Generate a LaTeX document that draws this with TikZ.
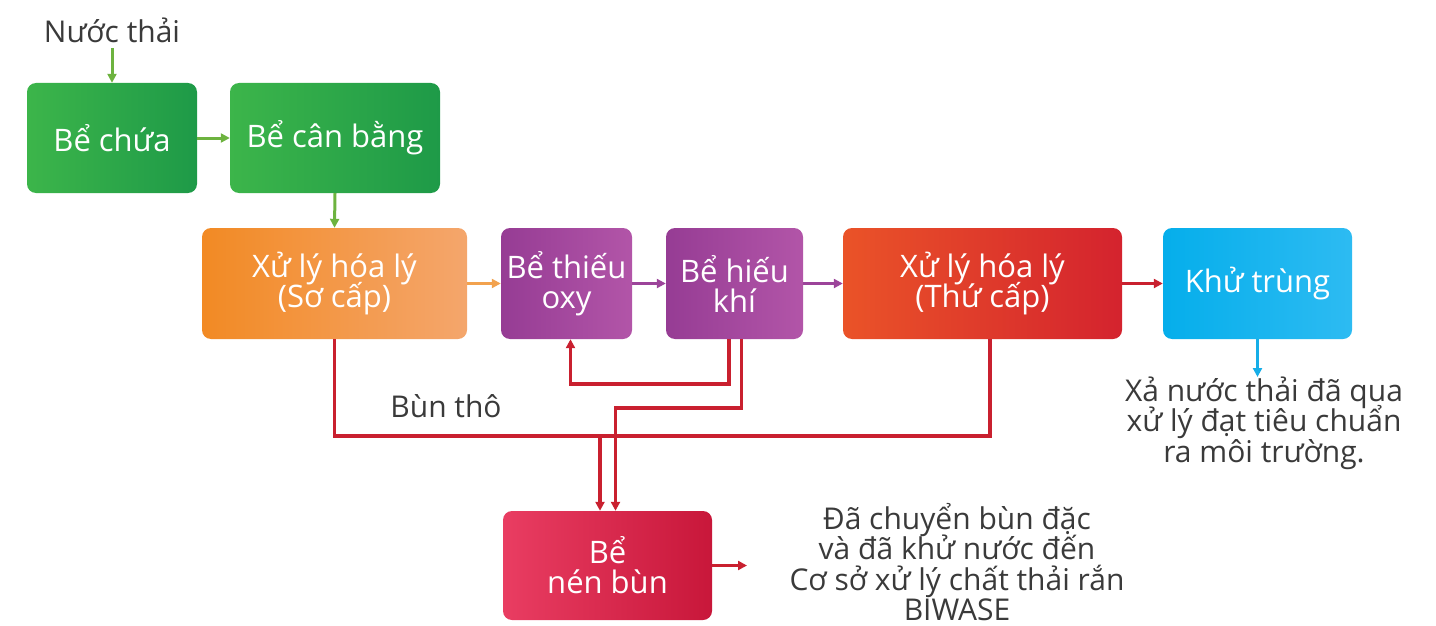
\documentclass[tikz,border=0pt]{standalone}
\usepackage{fontspec}
\setmainfont{Open Sans}
\usetikzlibrary{arrows.meta,calc}
\newcommand\mytightlines{\lineskiplimit=-60pt\relax\lineskip=0pt\relax}
\definecolor{gA}{HTML}{3CB54A}
\definecolor{gB}{HTML}{1E9A48}
\definecolor{oA}{HTML}{F28A24}
\definecolor{oB}{HTML}{F4A66C}
\definecolor{pA}{HTML}{963C94}
\definecolor{pB}{HTML}{B255A8}
\definecolor{rA}{HTML}{EA5328}
\definecolor{rB}{HTML}{D4232E}
\definecolor{cA}{HTML}{05AEEB}
\definecolor{cB}{HTML}{2DBBF2}
\definecolor{mA}{HTML}{E93D62}
\definecolor{mB}{HTML}{C8173A}
\definecolor{lineR}{HTML}{C9202F}
\definecolor{lineG}{HTML}{6DB33F}
\definecolor{lineP}{HTML}{9C449A}
\definecolor{lineO}{HTML}{F2A24E}
\definecolor{lineC}{HTML}{16AEE8}
\definecolor{txt}{HTML}{3A3A3A}
\tikzset{
  box/.style={rounded corners=9pt, draw=none, text=white, align=center, inner sep=0pt,
    font=\fontsize{31}{30}\selectfont\mytightlines, minimum height=111pt},
  lbl/.style={text=txt, align=center, inner sep=0pt,
    font=\fontsize{30}{30.5}\selectfont\mytightlines},
  tip/.style={-{Triangle[length=9pt,width=9pt]}},
  garrow/.style={tip, draw=lineG, line width=3pt},
  oarrow/.style={tip, draw=lineO, line width=3pt},
  parrow/.style={tip, draw=lineP, line width=3pt},
  rarrow/.style={tip, draw=lineR, line width=3.5pt},
  rline/.style={draw=lineR, line width=3.5pt},
  carrow/.style={tip, draw=lineC, line width=3pt},
}
\begin{document}
\begin{tikzpicture}[x=1pt,y=-1pt]
\useasboundingbox (0,0) rectangle (1436,626);
% boxes
\node[box, left color=gA, right color=gB, minimum width=170pt, minimum height=110pt] (chua) at (112,138) {Bể chứa};
\node[box, left color=gA, right color=gB, minimum width=210pt, minimum height=110pt] (canbang) at (335,138) {Bể cân bằng};
\node[box, left color=oA, right color=oB, minimum width=265pt] (socap) at (334.5,283.5) {Xử lý hóa lý\\(Sơ cấp)};
\node[box, left color=pA, right color=pB, minimum width=131pt] (thieu) at (566.5,283.5) {Bể thiếu\\oxy};
\node[box, left color=pA, right color=pB, minimum width=137pt] (hieu) at (734.5,283.5) {Bể hiếu\\khí};
\node[box, left color=rA, right color=rB, minimum width=279pt] (thucap) at (982.5,283.5) {Xử lý hóa lý\\(Thứ cấp)};
\node[box, left color=cA, right color=cB, minimum width=189pt] (khu) at (1257.5,283.5) {Khử trùng};
\node[box, left color=mA, right color=mB, minimum width=209pt, minimum height=109pt] (nen) at (607.5,565.5) {Bể\\nén bùn};
% labels
\node[lbl] (nuoc) at (112,30) {Nước thải};
\node[lbl] (xa) at (1264,423) {Xả nước thải đã qua\\xử lý đạt tiêu chuẩn\\ra môi trường.};
\node[lbl] (buntho) at (446,406) {Bùn thô};
\node[lbl] (chuyen) at (957,562) {Đã chuyển bùn đặc\\và đã khử nước đến\\Cơ sở xử lý chất thải rắn\\BIWASE};
% main flow
\coordinate (nuocout) at (112,48);
\draw[garrow] (nuocout) -- (chua.north);
\draw[garrow] (chua.east) -- (canbang.west);
\draw[garrow] (canbang.south) -- (socap.north);
\draw[oarrow] (socap.east) -- (thieu.west);
\draw[parrow] (thieu.east) -- (hieu.west);
\draw[parrow] (hieu.east) -- (thucap.west);
\draw[rarrow] (thucap.east) -- (khu.west);
\coordinate (xain) at (0,377);
\draw[carrow] (khu.south) -- (khu.south |- xain);
\coordinate (nenout) at (747,0);
\draw[rarrow] (nen.east) -- (nen.east -| nenout);
% sludge lines
\coordinate (bus) at (0,436);
\draw[rline] (socap.south) |- ([xshift=7.5pt]thucap.south |- bus) -- ([xshift=7.5pt]thucap.south);
\coordinate (j1) at (600,436);
\draw[rarrow] (j1) -- (j1 |- nen.north);
\coordinate (fb) at (0,384);
\draw[rarrow] ([xshift=-5.5pt]hieu.south) -- ([xshift=-5.5pt]hieu.south |- fb) -| ([xshift=4pt]thieu.south);
\coordinate (sl) at (0,408);
\coordinate (j2) at (615.5,0);
\draw[rarrow] ([xshift=7pt]hieu.south) -- ([xshift=7pt]hieu.south |- sl) -| (j2 |- nen.north);
\end{tikzpicture}
\end{document}
